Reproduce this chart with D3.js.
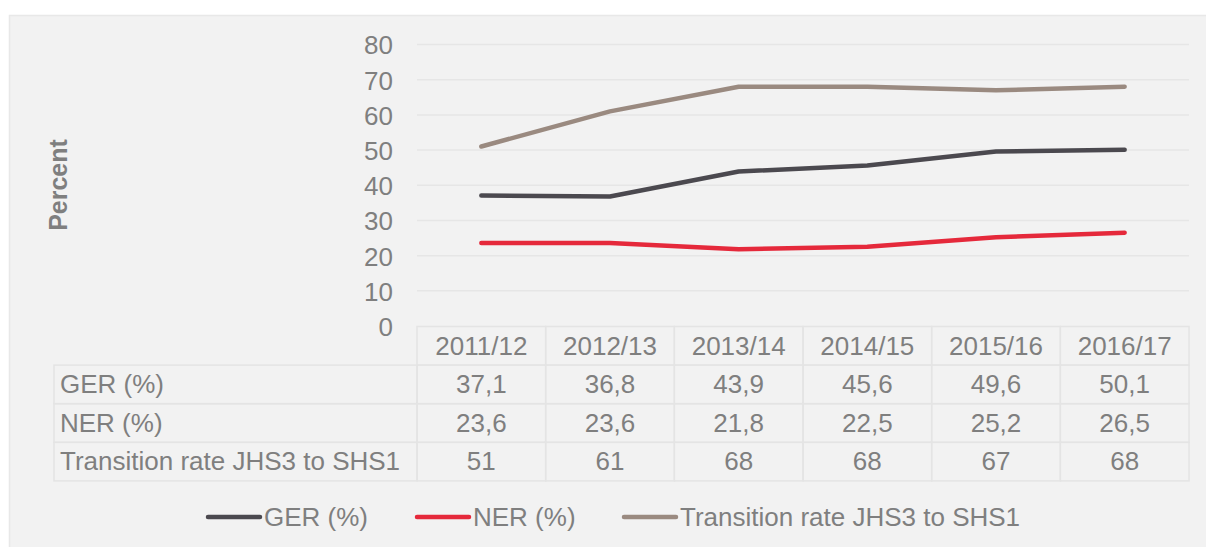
<!DOCTYPE html>
<html>
<head>
<meta charset="utf-8">
<script src="https://cdn.jsdelivr.net/npm/d3@7"></script>
<style>
body{margin:0;background:#fff;}
text{font-family:"Liberation Sans",Arial,sans-serif;fill:#7f7f7f;}
</style>
</head>
<body>
<div id="chart"></div>
<script>
var years = ["2011/12","2012/13","2013/14","2014/15","2015/16","2016/17"];
var ger = [37.1,36.8,43.9,45.6,49.6,50.1];
var ner = [23.6,23.6,21.8,22.5,25.2,26.5];
var trans = [51,61,68,68,67,68];
var seriesNames = ["GER (%)","NER (%)","Transition rate JHS3 to SHS1"];
var yTicks = [0,10,20,30,40,50,60,70,80];

var W = 1206, H = 547;
var colors = ["#4b494f","#e5293b","#9a8a80"];
var series = [ger, ner, trans];
var fs = "26px";

var svg = d3.select("#chart").append("svg")
	.attr("width", W)
	.attr("height", H);

// panel background
svg.append("rect")
	.attr("x",9.5).attr("y",15.5)
	.attr("width",W).attr("height",H)
	.attr("fill","#f2f2f2")
	.attr("stroke","#e8e8e8")
	.attr("stroke-width",1.5);

var left = 417, right = 1189;
var x = d3.scaleBand().domain(years).range([left,right]);
var y = d3.scaleLinear().domain([0,80]).range([326,44.5]);

// gridlines
svg.append("g").selectAll("line")
	.data(yTicks.filter(function(d){return d>0}))
	.enter().append("line")
	.attr("x1",left).attr("x2",right)
	.attr("y1",function(d){return y(d)})
	.attr("y2",function(d){return y(d)})
	.attr("stroke","#e6e6e6")
	.attr("stroke-width",1.5);

// y axis labels
var yAxis = d3.axisLeft(y).tickValues(yTicks).tickSize(0).tickPadding(0);
var ga = svg.append("g").attr("transform","translate(393,0)").call(yAxis);
ga.select(".domain").remove();
ga.selectAll("text")
	.attr("fill","#7f7f7f")
	.attr("dy","0.36em")
	.style("font-size",fs)
	.style("font-family","Liberation Sans, Arial, sans-serif");

svg.append("text")
	.attr("transform","translate(67,185) rotate(-90)")
	.style("text-anchor","middle")
	.style("font-weight","bold")
	.style("font-size","25px")
	.text("Percent");

// lines
var line = d3.line()
	.x(function(d,i){return x(years[i]) + x.bandwidth()/2})
	.y(function(d){return y(d)});

svg.append("g").selectAll("path")
	.data(series)
	.enter().append("path")
	.attr("d", line)
	.attr("fill","none")
	.attr("stroke",function(d,i){return colors[i]})
	.attr("stroke-width",4.5)
	.attr("stroke-linecap","round")
	.attr("stroke-linejoin","round");

// data table
var rowTop = 326.5, rowH = 38.6, labelLeft = 54;
var tg = svg.append("g");
var gridC = "#e4e4e4";

// header row cells
years.forEach(function(yr){
	tg.append("rect")
		.attr("x",x(yr)).attr("y",rowTop)
		.attr("width",x.bandwidth()).attr("height",rowH)
		.attr("fill","none").attr("stroke",gridC).attr("stroke-width",1.5);
	tg.append("text")
		.attr("x",x(yr)+x.bandwidth()/2)
		.attr("y",rowTop+28)
		.style("text-anchor","middle")
		.style("font-size",fs)
		.text(yr);
});

series.forEach(function(s,r){
	var top = rowTop + rowH*(r+1);
	tg.append("rect")
		.attr("x",labelLeft).attr("y",top)
		.attr("width",left-labelLeft).attr("height",rowH)
		.attr("fill","none").attr("stroke",gridC).attr("stroke-width",1.5);
	tg.append("text")
		.attr("x",labelLeft+6)
		.attr("y",top+28)
		.style("font-size",fs)
		.text(seriesNames[r]);
	s.forEach(function(v,i){
		tg.append("rect")
			.attr("x",x(years[i])).attr("y",top)
			.attr("width",x.bandwidth()).attr("height",rowH)
			.attr("fill","none").attr("stroke",gridC).attr("stroke-width",1.5);
		tg.append("text")
			.attr("x",x(years[i])+x.bandwidth()/2)
			.attr("y",top+28)
			.style("text-anchor","middle")
			.style("font-size",fs)
			.text(String(v).replace(".",","));
	});
});

// legend
var legX = [206,415,622];
var lg = svg.append("g");
seriesNames.forEach(function(n,i){
	lg.append("line")
		.attr("x1",legX[i]+2).attr("x2",legX[i]+54)
		.attr("y1",517).attr("y2",517)
		.attr("stroke",colors[i])
		.attr("stroke-width",4.5)
		.attr("stroke-linecap","round");
	lg.append("text")
		.attr("x",legX[i]+58)
		.attr("y",526)
		.style("font-size",fs)
		.text(n);
});
</script>
</body>
</html>
